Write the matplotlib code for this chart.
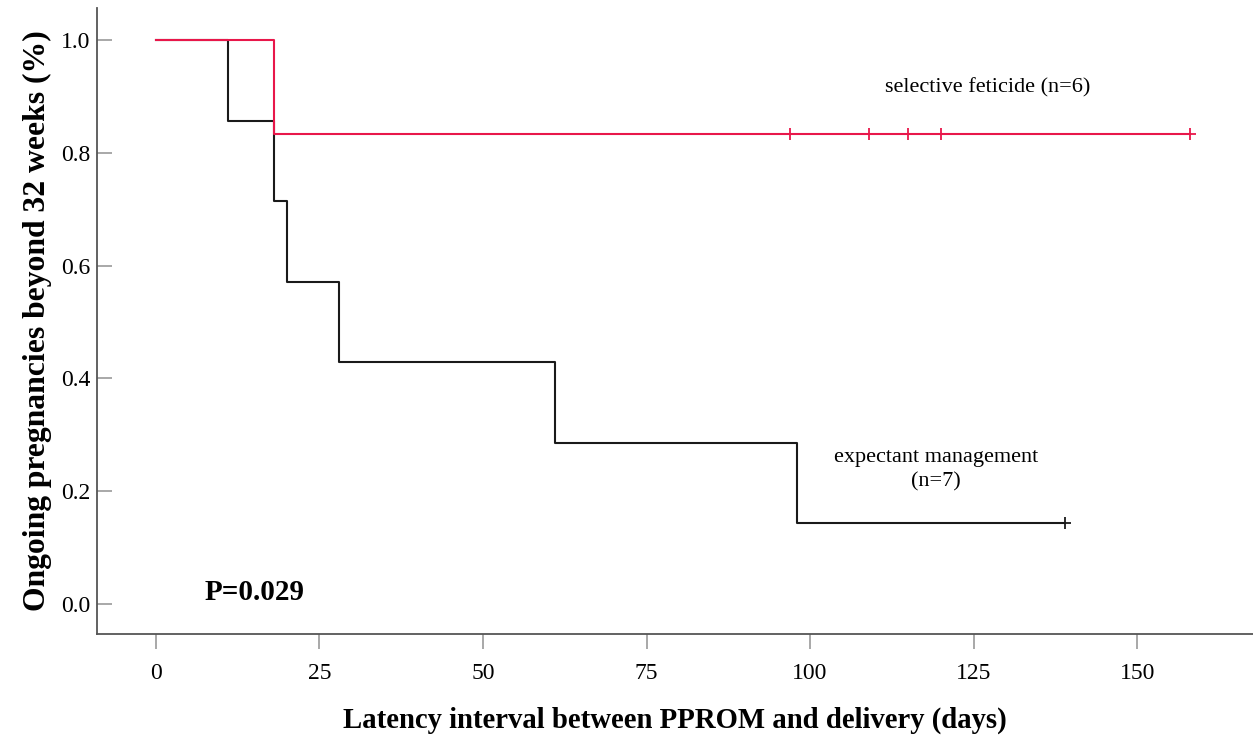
import numpy as np
import matplotlib
matplotlib.use('Agg')
import matplotlib.pyplot as plt

plt.rcParams['font.family'] = ['Liberation Serif', 'DejaVu Serif']

# expectant management (n=7)
em_days = [0, 11, 18, 20, 28, 61, 98, 139]
em_surv = [1.0, 0.857, 0.714, 0.571, 0.429, 0.286, 0.143, 0.143]
em_censor = [139]

# selective feticide (n=6)
sf_days = [0, 18, 158]
sf_surv = [1.0, 0.833, 0.833]
sf_censor = [97, 109, 115, 120, 158]

red = '#e8174a'

fig = plt.figure(figsize=(12.53, 7.35), dpi=100)
ax = fig.add_axes([97/1253, 1 - 634/735, 1 - 97/1253, (634 - 8)/735])

ax.step(em_days, em_surv, where='post', color='#1a1a1a', lw=1.5)
ax.plot(em_censor, [em_surv[-1]] * len(em_censor), '+', color='#1a1a1a', ms=9, mew=1.3)
ax.step(sf_days, sf_surv, where='post', color=red, lw=1.5)
ax.plot(sf_censor, [sf_surv[-1]] * len(sf_censor), '+', color=red, ms=9, mew=1.3)

ax.set_xlim(-9.0, 167.7)
ax.set_ylim(-0.0532, 1.0567)
ax.set_xticks([0, 25, 50, 75, 100, 125, 150])
ax.set_yticks([0.0, 0.2, 0.4, 0.6, 0.8, 1.0])
ax.set_yticklabels(['0.0', '0.2', '0.4', '0.6', '0.8', '1.0'])

for s in ['top', 'right']:
    ax.spines[s].set_visible(False)
for s in ['left', 'bottom']:
    ax.spines[s].set_color('#555555')
    ax.spines[s].set_linewidth(1.3)

ax.tick_params(axis='y', direction='in', length=11, width=1.2, color='#999999',
               labelsize=17, pad=5)
ax.tick_params(axis='x', direction='out', length=11, width=1.2, color='#999999',
               labelsize=17, pad=10)

ax.set_xlabel('Latency interval between PPROM and delivery (days)', fontsize=20.7,
              fontweight='bold', labelpad=16)
ax.set_ylabel('Ongoing pregnancies beyond 32 weeks (%)', fontsize=22.8,
              fontweight='bold', labelpad=6)

ax.text(127.2, 0.915, 'selective feticide (n=6)', fontsize=16, ha='center', va='center')
ax.text(119.3, 0.238, 'expectant management\n(n=7)', fontsize=16, ha='center', va='center',
        linespacing=1.3)
ax.text(7.5, 0.021, 'P=0.029', fontsize=21, fontweight='bold', ha='left', va='center')

fig.savefig('out.png', dpi=100)
